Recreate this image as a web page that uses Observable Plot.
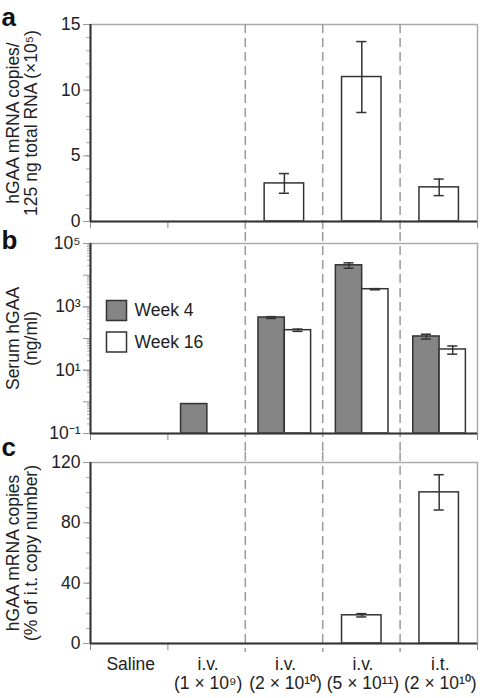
<!DOCTYPE html>
<html><head><meta charset="utf-8">
<script src="https://cdn.jsdelivr.net/npm/d3@7"></script>
<script src="https://cdn.jsdelivr.net/npm/@observablehq/plot@0.6"></script>
<style>
body{margin:0;background:#fff;}
#chart svg{display:block;}
</style></head><body><div id="chart"></div>
<script>
// ---- data ----
const groupLine1 = ["Saline", "i.v.", "i.v.", "i.v.", "i.t."];
const groupLine2 = ["", "(1 × 10⁹)", "(2 × 10¹⁰)", "(5 × 10¹¹)", "(2 × 10¹⁰)"];

const aValues = [0, 0, 2.9, 11.0, 2.6];
const aErrors = [0, 0, 0.75, 2.7, 0.63];

const seriesNames = ["Week 4", "Week 16"];
const bWeek4 = [0, 0.85, 460, 20500, 116];
const bWeek4Err = [0, 0, 30, 4000, 20];
const bWeek16 = [0, 0, 183, 3600, 45];
const bWeek16Err = [0, 0, 15, 150, 13];

const cValues = [0, 0, 0, 18.7, 100.2];
const cErrors = [0, 0, 0, 1.1, 11.7];

const aTicks = [0, 5, 10, 15];
const bTicks = [0.1, 10, 1000, 100000];
const bTickLabels = ["10⁻¹", "10¹", "10³", "10⁵"];
const cTicks = [0, 40, 80, 120];
const panelLetters = ["a", "b", "c"];
const aTitle = "hGAA mRNA copies/\n125 ng total RNA (×10⁵)";
const bTitle = "Serum hGAA\n(ng/ml)";
const cTitle = "hGAA mRNA copies\n(% of i.t. copy number)";

// ---- drawing ----
const W = 480;
const FS = 17.5;
const font = "'Liberation Sans', Arial, Helvetica, sans-serif";
const idx = d3.range(groupLine1.length);
const dark = "#333";
const style = {fontFamily: font, fontSize: FS + "px", background: "white", color: "#222", overflow: "visible"};

function frameMarks(ymin, insetTop, insetBottom) {
  return [
    Plot.frame({stroke: "#aaa", strokeWidth: 1.5}),
    Plot.ruleX([2, 3, 4], {stroke: "#9a9a9a", strokeWidth: 1.5, strokeDasharray: "9,5", insetTop, insetBottom}),
    Plot.axisX({ticks: [0, 1, 5], tickSize: 7, tickFormat: () => "", stroke: "#888", label: null}),
    Plot.ruleX([0], {stroke: dark, strokeWidth: 2}),
    Plot.ruleY([ymin], {stroke: dark, strokeWidth: 2})
  ];
}
function letter(i, dy) {
  return Plot.text([panelLetters[i]], {text: d => d, frameAnchor: "top-left", dx: -89, dy,
    textAnchor: "start", lineAnchor: "bottom", fontWeight: "bold", fontSize: 26, fill: "#111"});
}
function title(t, dy) {
  return Plot.text([t], {text: d => d, frameAnchor: "left", dx: -68.5, dy, rotate: -90,
    textAnchor: "middle", lineAnchor: "middle", lineHeight: 1.07, fontSize: FS, fill: "#222"});
}
function errorMarks(vals, errs, off) {
  const e = idx.filter(i => errs[i] > 0);
  const cx = i => i + off;
  return [
    Plot.ruleX(e, {x: cx, y1: i => vals[i] - errs[i], y2: i => vals[i] + errs[i], stroke: dark, strokeWidth: 1.5}),
    Plot.ruleY(e, {y: i => vals[i] + errs[i], x1: i => cx(i) - 0.065, x2: i => cx(i) + 0.065, stroke: dark, strokeWidth: 1.5}),
    Plot.ruleY(e, {y: i => vals[i] - errs[i], x1: i => cx(i) - 0.065, x2: i => cx(i) + 0.065, stroke: dark, strokeWidth: 1.5})
  ];
}

// Panel a
const plotA = Plot.plot({
  width: W, height: 232, marginTop: 24, marginBottom: 11, marginLeft: 90, marginRight: 3,
  style,
  x: {domain: [0, 5]},
  y: {domain: [0, 15]},
  marks: [
    Plot.axisY({ticks: d3.range(0, 16), tickSize: 4, tickFormat: () => "", stroke: "#aaa", label: null}),
    Plot.axisY({ticks: aTicks, tickSize: 7, tickPadding: 3, stroke: "#999", label: null}),
    Plot.rect(idx.filter(i => aValues[i] > 0), {x1: i => i + 0.25, x2: i => i + 0.76, y1: 0, y2: i => aValues[i],
      fill: "white", stroke: dark, strokeWidth: 1.5}),
    ...errorMarks(aValues, aErrors, 0.505),
    ...frameMarks(0, 0, -11),
    letter(0, 1),
    title(aTitle, 0)
  ]
});

// Panel b
const logMinor = d3.range(-1, 5).flatMap(k => d3.range(2, 10).map(m => m * Math.pow(10, k)));
const plotB = Plot.plot({
  width: W, height: 220, marginTop: 11, marginBottom: 19, marginLeft: 90, marginRight: 3,
  style,
  x: {domain: [0, 5]},
  y: {type: "log", domain: [0.1, 100000]},
  marks: [
    Plot.axisY({ticks: logMinor, tickSize: 3, tickFormat: () => "", stroke: "#aaa", label: null}),
    Plot.axisY({ticks: [0.1, 1, 10, 100, 1000, 10000, 100000], tickSize: 7, tickFormat: () => "", stroke: "#999", label: null}),
    Plot.axisY({ticks: bTicks, tickSize: 7, tickPadding: 3, tickFormat: d => bTickLabels[bTicks.indexOf(d)], stroke: "#999", label: null}),
    Plot.rect(idx.filter(i => bWeek4[i] > 0), {x1: i => i + 0.17, x2: i => i + 0.51, y1: 0.1, y2: i => bWeek4[i],
      fill: "#858585", stroke: dark, strokeWidth: 1.5}),
    Plot.rect(idx.filter(i => bWeek16[i] > 0), {x1: i => i + 0.51, x2: i => i + 0.85, y1: 0.1, y2: i => bWeek16[i],
      fill: "white", stroke: dark, strokeWidth: 1.5}),
    ...errorMarks(bWeek4, bWeek4Err, 0.34),
    ...errorMarks(bWeek16, bWeek16Err, 0.68),
    ...frameMarks(0.1, -11, -19),
    Plot.dot([seriesNames[0]], {frameAnchor: "top-left", dx: 26, dy: 67, symbol: "square", r: 11.3, fill: "#858585", stroke: dark, strokeWidth: 1.5}),
    Plot.dot([seriesNames[1]], {frameAnchor: "top-left", dx: 26, dy: 98.5, symbol: "square", r: 11.3, fill: "white", stroke: dark, strokeWidth: 1.5}),
    Plot.text([seriesNames[0]], {text: d => d, frameAnchor: "top-left", dx: 44, dy: 67, textAnchor: "start", lineAnchor: "middle", fontSize: FS, fill: "#222"}),
    Plot.text([seriesNames[1]], {text: d => d, frameAnchor: "top-left", dx: 44, dy: 98.5, textAnchor: "start", lineAnchor: "middle", fontSize: FS, fill: "#222"}),
    letter(1, 5),
    title(bTitle, 0)
  ]
});

// Panel c
const plotC = Plot.plot({
  width: W, height: 246, marginTop: 10, marginBottom: 55, marginLeft: 90, marginRight: 3,
  style,
  x: {domain: [0, 5]},
  y: {domain: [0, 120]},
  marks: [
    Plot.axisY({ticks: d3.range(0, 121, 10), tickSize: 4, tickFormat: () => "", stroke: "#aaa", label: null}),
    Plot.axisY({ticks: cTicks, tickSize: 7, tickPadding: 3, stroke: "#999", label: null}),
    Plot.rect(idx.filter(i => cValues[i] > 0), {x1: i => i + 0.25, x2: i => i + 0.76, y1: 0, y2: i => cValues[i],
      fill: "white", stroke: dark, strokeWidth: 1.5}),
    ...errorMarks(cValues, cErrors, 0.505),
    ...frameMarks(0, -10, -9),
    Plot.text(idx, {x: i => i + 0.52, text: i => groupLine2[i] ? groupLine1[i] + "\n" + groupLine2[i] : groupLine1[i],
      frameAnchor: "bottom", dy: 13.5, lineAnchor: "top", lineHeight: 1.07, textAnchor: "middle", fontSize: FS, fill: "#222"}),
    letter(2, -7),
    title(cTitle, 0)
  ]
});

const chart = document.getElementById("chart");
chart.append(plotA, plotB, plotC);
</script></body></html>
